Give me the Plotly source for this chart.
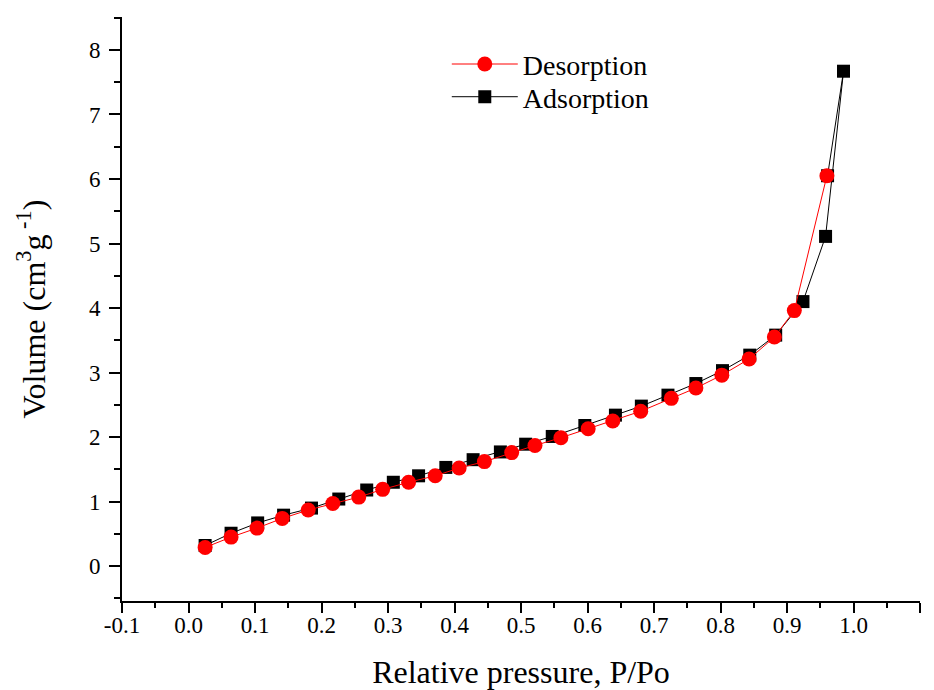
import plotly.graph_objects as go

# Adsorption branch (black squares)
ads_x = [0.025, 0.064, 0.104, 0.143, 0.185, 0.226, 0.268, 0.308, 0.346, 0.387,
         0.428, 0.469, 0.507, 0.547, 0.596, 0.642, 0.681, 0.721, 0.763, 0.803,
         0.844, 0.883, 0.924, 0.958, 0.985, 0.961]
ads_y = [0.32, 0.51, 0.67, 0.79, 0.90, 1.04, 1.18, 1.30, 1.40, 1.53,
         1.65, 1.77, 1.89, 2.01, 2.18, 2.34, 2.48, 2.65, 2.83, 3.03,
         3.27, 3.58, 4.10, 5.11, 7.67, 6.05]

# Desorption branch (red circles)
des_x = [0.025, 0.064, 0.103, 0.141, 0.180, 0.217, 0.256, 0.292, 0.331, 0.371,
         0.407, 0.445, 0.486, 0.521, 0.560, 0.601, 0.638, 0.680, 0.726, 0.763,
         0.802, 0.843, 0.881, 0.911, 0.960]
des_y = [0.29, 0.45, 0.59, 0.74, 0.87, 0.97, 1.07, 1.19, 1.30, 1.40,
         1.52, 1.62, 1.76, 1.87, 1.99, 2.13, 2.25, 2.40, 2.60, 2.76,
         2.96, 3.21, 3.55, 3.96, 6.05]

x_ticks = [round(-0.1 + 0.1 * i, 1) for i in range(13)]
y_ticks = list(range(0, 9))

font_family = "Liberation Serif, Times New Roman, serif"

fig = go.Figure()
fig.add_trace(go.Scatter(
    x=ads_x, y=ads_y, name="Adsorption", mode="lines+markers",
    line=dict(color="black", width=1),
    marker=dict(symbol="square", size=13, color="black"),
    legend="legend2", showlegend=True,
))
fig.add_trace(go.Scatter(
    x=des_x, y=des_y, name="Desorption", mode="lines+markers",
    line=dict(color="red", width=1),
    marker=dict(symbol="circle", size=15, color="red"),
    legend="legend", showlegend=True,
))

leg_common = dict(xanchor="left", yanchor="middle", bgcolor="rgba(0,0,0,0)",
                  font=dict(size=28, family=font_family), itemwidth=66, visible=True)

fig.update_layout(
    width=934, height=690,
    margin=dict(l=122, r=14, t=17, b=89),
    showlegend=True,
    plot_bgcolor="white", paper_bgcolor="white",
    font=dict(family=font_family, color="black", size=23),
    legend=dict(x=0.407, y=0.919, **leg_common),
    legend2=dict(x=0.407, y=0.863, **leg_common),
    xaxis=dict(
        range=[-0.1, 1.1], tickvals=x_ticks,
        ticktext=[f"{v:.1f}" for v in x_ticks],
        showgrid=False, zeroline=False, automargin=False,
        showline=True, linecolor="black", linewidth=2,
        ticks="outside", ticklen=10, tickwidth=2, tickcolor="black",
        minor=dict(dtick=0.05, tick0=0, ticks="outside", ticklen=5, tickwidth=2, tickcolor="black"),
        tickfont=dict(size=23), ticklabelstandoff=-8,
        title=dict(text="Relative pressure, P/Po", font=dict(size=32), standoff=24),
    ),
    yaxis=dict(
        range=[-0.54, 8.51], tickvals=y_ticks,
        showgrid=False, zeroline=False, automargin=False,
        showline=True, linecolor="black", linewidth=2,
        ticks="outside", ticklen=11, tickwidth=2, tickcolor="black",
        minor=dict(dtick=0.5, tick0=0, ticks="outside", ticklen=6, tickwidth=2, tickcolor="black"),
        tickfont=dict(size=23), ticklabelstandoff=4,
        title=dict(text="Volume (cm<sup>3</sup>g<sup> -1</sup>)", font=dict(size=32), standoff=34),
    ),
)

fig.write_html("out.html")
